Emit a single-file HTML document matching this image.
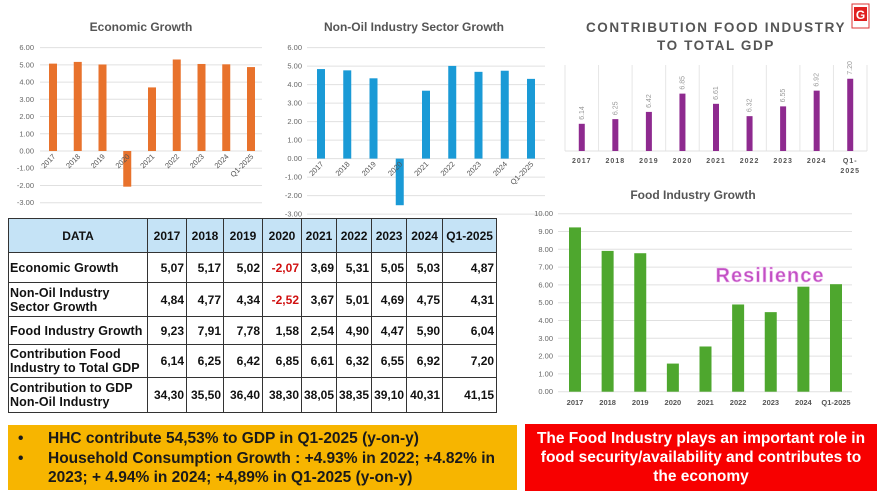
<!DOCTYPE html>
<html><head><meta charset="utf-8"><style>
body{margin:0;width:885px;height:495px;overflow:hidden;background:#fff;font-family:"Liberation Sans",sans-serif;position:relative}
svg{position:absolute;left:0;top:0}
table{position:absolute;left:8px;top:218px;border-collapse:collapse;font-weight:bold;font-size:12px;color:#111;table-layout:fixed}
td,th{border:1.3px solid #333;padding:0 2px;line-height:14px}
th{background:#c5e3f6;height:33px;text-align:center}
td{text-align:right}
td.l{text-align:left;padding-left:1px;font-size:12.5px;letter-spacing:0.1px}
.neg{color:#d01010}
.yb{position:absolute;left:8px;top:425px;width:509px;height:65px;background:#f7b500;font-weight:bold;font-size:15.5px;color:#1a1a1a;box-sizing:border-box;padding:4px 20px 0 10px;line-height:19.5px}
.yb div{position:relative;padding-left:30px}
.yb div span{position:absolute;left:0}
.rb{position:absolute;left:525px;top:424px;width:352px;height:67px;background:#f70000;color:#fff;font-weight:bold;font-size:15.5px;text-align:center;line-height:19px;padding:5px 10px 0;box-sizing:border-box}
</style></head><body>
<svg id="s" width="885" height="495"></svg>
<table>
<colgroup><col style="width:139px"><col style="width:39px"><col style="width:37px"><col style="width:39px"><col style="width:39px"><col style="width:34px"><col style="width:33px"><col style="width:35px"><col style="width:36px"><col style="width:54px"></colgroup>
<tr><th>DATA</th><th>2017</th><th>2018</th><th>2019</th><th>2020</th><th>2021</th><th>2022</th><th>2023</th><th>2024</th><th>Q1-2025</th></tr>
<tr style="height:30px"><td class="l">Economic Growth</td><td>5,07</td><td>5,17</td><td>5,02</td><td class="neg">-2,07</td><td>3,69</td><td>5,31</td><td>5,05</td><td>5,03</td><td>4,87</td></tr>
<tr style="height:34px"><td class="l">Non-Oil Industry Sector Growth</td><td>4,84</td><td>4,77</td><td>4,34</td><td class="neg">-2,52</td><td>3,67</td><td>5,01</td><td>4,69</td><td>4,75</td><td>4,31</td></tr>
<tr style="height:28px"><td class="l">Food Industry Growth</td><td>9,23</td><td>7,91</td><td>7,78</td><td>1,58</td><td>2,54</td><td>4,90</td><td>4,47</td><td>5,90</td><td>6,04</td></tr>
<tr style="height:33px"><td class="l">Contribution Food Industry to Total GDP</td><td>6,14</td><td>6,25</td><td>6,42</td><td>6,85</td><td>6,61</td><td>6,32</td><td>6,55</td><td>6,92</td><td>7,20</td></tr>
<tr style="height:35px"><td class="l">Contribution to GDP Non-Oil Industry</td><td>34,30</td><td>35,50</td><td>36,40</td><td>38,30</td><td>38,05</td><td>38,35</td><td>39,10</td><td>40,31</td><td>41,15</td></tr>
</table>
<div class="yb"><div><span>•</span>HHC contribute 54,53% to GDP in Q1-2025 (y-on-y)</div><div><span>•</span>Household Consumption Growth : +4.93% in 2022; +4.82% in 2023; + 4.94% in 2024; +4,89% in Q1-2025 (y-on-y)</div></div>
<div class="rb">The Food Industry plays an important role in food security/availability and contributes to the economy</div>
<script>
const categories=["2017","2018","2019","2020","2021","2022","2023","2024","Q1-2025"];
const econValues=[5.07,5.17,5.02,-2.07,3.69,5.31,5.05,5.03,4.87];
const nonOilValues=[4.84,4.77,4.34,-2.52,3.67,5.01,4.69,4.75,4.31];
const foodGrowthValues=[9.23,7.91,7.78,1.58,2.54,4.90,4.47,5.90,6.04];
const contribValues=[6.14,6.25,6.42,6.85,6.61,6.32,6.55,6.92,7.20];
const growthTicks=[6,5,4,3,2,1,0,-1,-2,-3];
const foodTicks=[10,9,8,7,6,5,4,3,2,1,0];
const S=document.getElementById('s');const NS='http://www.w3.org/2000/svg';
function mk(t,a,txt){const e=document.createElementNS(NS,t);for(const k in a)e.setAttribute(k,a[k]);if(txt!==undefined)e.textContent=txt;S.appendChild(e);return e;}
function growthChart(key,vals,color,title,tx,y0,y6,x0,x1,b0,b1,bw,lx){
 const sc=(y0-y6)/6;const y=v=>y0-v*sc;const step=(b1-b0)/(vals.length-1);const x=i=>b0+i*step;
 let t=mk('text',{x:tx,y:31,'text-anchor':'middle','font-size':12,'font-weight':'bold',fill:'#555'},title);
 
 
 growthTicks.forEach(v=>{
  let g=mk('line',{x1:x0,x2:x1,y1:y(v),y2:y(v),stroke:'#e0e0e0','stroke-width':1});
  
  
  let l=mk('text',{x:lx,y:y(v)+2.5,'text-anchor':'end','font-size':7.5,fill:'#666'},v.toFixed(2));
  
  
 });
 vals.forEach((v,i)=>{
  let r=mk('rect',{x:x(i)-bw/2,y:Math.min(y(v),y(0)),width:bw,height:Math.abs(y(v)-y(0)),fill:color});
  
  
  let c=mk('text',{x:x(i)+3,y:y(0)+6,'text-anchor':'end','font-size':7.5,fill:'#555',transform:`rotate(-45 ${x(i)+3} ${y(0)+6})`},categories[i]);
  
  
 });
}
growthChart('economic-growth',econValues,'#e8722c','Economic Growth',141,151,47.6,40,262,53,251,8,34);
growthChart('non-oil-growth',nonOilValues,'#1a9ad6','Non-Oil Industry Sector Growth',414,158.6,47.6,307,545,321,531,8,302);
(function(){
 const key='contribution-chart';const base=151,min=5.5,sc=42.5,left=565,right=867;
 const cw=(right-left)/contribValues.length;const y=v=>base-(v-min)*sc;
 let t1=mk('text',{x:716,y:32,'text-anchor':'middle','font-size':13.5,'font-weight':'bold',fill:'#555','letter-spacing':1.6},'CONTRIBUTION FOOD INDUSTRY');
 
 
 let t2=mk('text',{x:716,y:50,'text-anchor':'middle','font-size':13.5,'font-weight':'bold',fill:'#555','letter-spacing':1.6},'TO TOTAL GDP');
 
 
 for(let i=0;i<=contribValues.length;i++){let g=mk('line',{x1:left+i*cw,x2:left+i*cw,y1:65,y2:base,stroke:'#e6e6e6'});
  
  }
 let bl=mk('line',{x1:left,x2:right,y1:base,y2:base,stroke:'#e0e0e0'});
 
 
 contribValues.forEach((v,i)=>{const cx=left+cw*(i+0.5);
  let r=mk('rect',{x:cx-3,y:y(v),width:6,height:base-y(v),fill:'#8e2a8f'});
  
  
  let vl=mk('text',{x:cx+2,y:y(v)-4,'font-size':7,fill:'#999',transform:`rotate(-90 ${cx+2} ${y(v)-4})`},v.toFixed(2));
  
  
  const parts=categories[i]==='Q1-2025'?['Q1-','2025']:[categories[i]];
  parts.forEach((p,j)=>{let c=mk('text',{x:cx,y:163+j*10,'text-anchor':'middle','font-size':7,'font-weight':'bold',fill:'#555','letter-spacing':1},p);
   
   });
 });
})();
(function(){
 const key='food-growth';const y0=391.7,sc=17.8,x0=558,x1=852,b0=575,b1=836;
 const y=v=>y0-v*sc;const step=(b1-b0)/(foodGrowthValues.length-1);
 let t=mk('text',{x:693,y:199,'text-anchor':'middle','font-size':12,'font-weight':'bold',fill:'#555'},'Food Industry Growth');
 
 
 foodTicks.forEach(v=>{
  let g=mk('line',{x1:x0,x2:x1,y1:y(v),y2:y(v),stroke:'#e0e0e0'});
  
  
  let l=mk('text',{x:553,y:y(v)+2.5,'text-anchor':'end','font-size':7.5,fill:'#666'},v.toFixed(2));
  
  
 });
 foodGrowthValues.forEach((v,i)=>{const cx=b0+i*step;
  let r=mk('rect',{x:cx-6,y:y(v),width:12,height:y0-y(v),fill:'#4ea72e'});
  
  
  let c=mk('text',{x:cx,y:405,'text-anchor':'middle','font-size':7.5,'font-weight':'bold',fill:'#555'},categories[i]);
  
  
 });
 let rs=mk('text',{x:770,y:282,'text-anchor':'middle','font-size':20,'font-weight':'bold',fill:'#c24fc4',stroke:'#f0c0f0','stroke-width':0.6,'letter-spacing':1},'Resilience');
 
 
})();
let lg=mk('rect',{x:852,y:4,width:17,height:24,fill:'#fff',stroke:'#d33','stroke-width':1});


let lg2=mk('rect',{x:854,y:7,width:13,height:14,fill:'#e02020'});


let lg3=mk('text',{x:860.5,y:19,'text-anchor':'middle','font-size':12,'font-weight':'bold',fill:'#fff'},'G');


</script>
</body></html>
